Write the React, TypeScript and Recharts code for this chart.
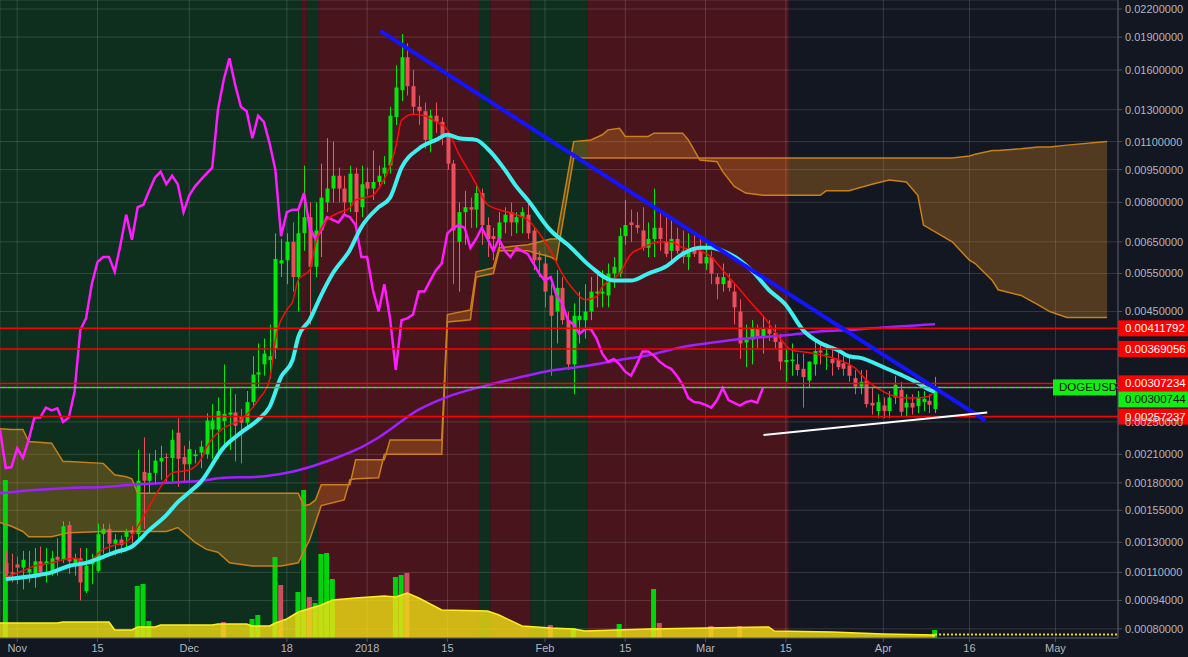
import React from "react";
import {
  ComposedChart,
  XAxis,
  YAxis,
  CartesianGrid,
  Bar,
  Line,
  Area,
  ReferenceArea,
  ReferenceLine,
} from "recharts";

// price axis is TradingView-style log: log10(price + shift)
const LOG_SHIFT = 0.00008;
const T = (v: number) => Math.log10(v + LOG_SHIFT);
const fromT = (t: number) => Math.pow(10, t) - LOG_SHIFT;

// day 0 = 1 Nov 2017
const X_MIN = -3;
const X_MAX = 191.9;
const Y_MIN = 0.000759;
const Y_MAX = 0.023057;

const TICK_DAYS = [0, 14, 30, 47, 61, 75, 92, 106, 120, 134, 151, 166, 181];
const TICK_LABELS = ["Nov", "15", "Dec", "18", "2018", "15", "Feb", "15", "Mar", "15", "Apr", "16", "May"];
const PRICE_TICKS = [
  0.022, 0.019, 0.016, 0.013, 0.011, 0.0095, 0.008, 0.0065, 0.0055, 0.0045, 0.0025, 0.0021, 0.0018,
  0.00155, 0.0013, 0.0011, 0.00094, 0.0008,
];

const CANDLE_START_DAY = -2;
// daily [open, high, low, close]
const OHLC: [number, number, number, number][] = [
  [0.00116, 0.00124, 0.00107, 0.00109], [0.0011, 0.00122, 0.00104, 0.00109], [0.00115, 0.0012, 0.00103, 0.00113],
  [0.00113, 0.00124, 0.001, 0.00118], [0.0011, 0.00124, 0.00104, 0.00112], [0.00107, 0.00126, 0.00101, 0.00117],
  [0.00117, 0.00127, 0.00108, 0.0011], [0.00115, 0.00126, 0.00104, 0.00117], [0.00111, 0.00124, 0.00108, 0.00119],
  [0.0012, 0.00133, 0.00108, 0.00118], [0.00118, 0.00146, 0.00116, 0.00142], [0.00143, 0.00146, 0.00109, 0.00117],
  [0.00116, 0.00122, 0.00108, 0.00119], [0.00119, 0.00126, 0.00094, 0.00104], [0.00099, 0.00126, 0.00098, 0.00114],
  [0.00115, 0.00122, 0.00103, 0.00117], [0.00111, 0.00144, 0.0011, 0.00136], [0.00136, 0.00144, 0.00122, 0.0014],
  [0.0014, 0.00144, 0.00121, 0.00129], [0.00129, 0.00136, 0.00121, 0.00132], [0.00132, 0.00135, 0.00122, 0.00128],
  [0.00134, 0.0014, 0.00126, 0.00138], [0.00139, 0.00142, 0.00128, 0.00136], [0.00136, 0.00215, 0.00132, 0.00182],
  [0.00191, 0.0023, 0.0014, 0.00182], [0.00182, 0.00211, 0.0017, 0.0019], [0.0019, 0.00215, 0.00178, 0.00203],
  [0.00202, 0.0022, 0.00183, 0.00206], [0.00207, 0.00211, 0.00181, 0.00206], [0.00206, 0.0024, 0.00181, 0.00227],
  [0.00236, 0.00255, 0.00176, 0.00205], [0.00207, 0.0022, 0.0018, 0.00199], [0.00199, 0.00226, 0.0018, 0.00216],
  [0.00208, 0.00215, 0.002, 0.0021], [0.00212, 0.00226, 0.00195, 0.00219], [0.0021, 0.00262, 0.00205, 0.00252],
  [0.0024, 0.00275, 0.00205, 0.00252], [0.0024, 0.00285, 0.00205, 0.00265], [0.00251, 0.0034, 0.00216, 0.00261],
  [0.0026, 0.003, 0.00215, 0.00263], [0.00263, 0.0029, 0.00202, 0.00245], [0.00258, 0.00268, 0.002, 0.00249],
  [0.00249, 0.00295, 0.0024, 0.00278], [0.00278, 0.00355, 0.0027, 0.00322], [0.00322, 0.0038, 0.003, 0.00326],
  [0.0034, 0.0039, 0.0032, 0.0036], [0.00348, 0.0042, 0.00315, 0.00355], [0.0037, 0.0068, 0.0035, 0.00594],
  [0.0058, 0.0066, 0.0054, 0.0059], [0.0059, 0.0068, 0.0052, 0.0065], [0.0065, 0.0072, 0.005, 0.0054],
  [0.0054, 0.0078, 0.0045, 0.0068], [0.0068, 0.0097, 0.0062, 0.0074], [0.0074, 0.008, 0.0042, 0.0057],
  [0.0057, 0.008, 0.0054, 0.0069], [0.0069, 0.0098, 0.006, 0.0082], [0.008, 0.0112, 0.0076, 0.0086],
  [0.0086, 0.011, 0.008, 0.0092], [0.0092, 0.0096, 0.008, 0.0086], [0.0086, 0.0092, 0.0075, 0.008],
  [0.008, 0.0097, 0.0076, 0.0093], [0.0093, 0.0096, 0.0069, 0.0076], [0.0078, 0.0097, 0.0074, 0.0088],
  [0.0089, 0.0096, 0.0083, 0.0086], [0.0086, 0.0105, 0.0081, 0.0089], [0.0089, 0.0097, 0.0086, 0.0092],
  [0.0093, 0.0102, 0.0088, 0.0096], [0.0097, 0.0132, 0.0093, 0.0126], [0.0125, 0.0164, 0.012, 0.0146],
  [0.0144, 0.0193, 0.0136, 0.0171], [0.0171, 0.0184, 0.014, 0.0147], [0.0147, 0.016, 0.0127, 0.0132],
  [0.0132, 0.014, 0.012, 0.0129], [0.0129, 0.0135, 0.0106, 0.0111], [0.0111, 0.013, 0.0104, 0.0126],
  [0.0126, 0.0135, 0.0115, 0.0122], [0.0122, 0.0125, 0.0108, 0.0113], [0.0113, 0.0116, 0.0095, 0.0098],
  [0.0098, 0.01, 0.0052, 0.0069], [0.0065, 0.008, 0.005, 0.0076], [0.0076, 0.0085, 0.0064, 0.0078],
  [0.0078, 0.0082, 0.007, 0.0077], [0.0077, 0.0088, 0.007, 0.0084], [0.0084, 0.0086, 0.0064, 0.0071],
  [0.0071, 0.0074, 0.006, 0.0066], [0.0067, 0.007, 0.0059, 0.0066], [0.0066, 0.0076, 0.0062, 0.0072],
  [0.0072, 0.0078, 0.0068, 0.0075], [0.0076, 0.008, 0.0067, 0.0072], [0.0072, 0.0076, 0.0068, 0.0074],
  [0.0074, 0.0078, 0.0068, 0.0076], [0.0075, 0.008, 0.0066, 0.0068], [0.0069, 0.007, 0.0056, 0.0059],
  [0.006, 0.0062, 0.0054, 0.0059], [0.0058, 0.0061, 0.0046, 0.005], [0.0049, 0.0052, 0.0032, 0.0044],
  [0.0045, 0.0056, 0.0038, 0.0051], [0.0051, 0.0054, 0.0042, 0.0043], [0.0043, 0.0045, 0.0033, 0.0034],
  [0.0034, 0.0047, 0.0029, 0.0044], [0.0043, 0.005, 0.0038, 0.0044], [0.0043, 0.0052, 0.0039, 0.0045],
  [0.0045, 0.0054, 0.0043, 0.005], [0.00495, 0.0056, 0.0046, 0.005], [0.00495, 0.0056, 0.0046, 0.005],
  [0.0049, 0.0058, 0.0046, 0.0055], [0.0055, 0.006, 0.0051, 0.0057], [0.0055, 0.007, 0.0054, 0.0067],
  [0.0067, 0.0081, 0.0064, 0.0071], [0.0072, 0.0077, 0.0065, 0.0071], [0.0071, 0.0076, 0.0068, 0.007],
  [0.0069, 0.0078, 0.0062, 0.0063], [0.0063, 0.0072, 0.006, 0.0066], [0.0066, 0.0086, 0.006, 0.007],
  [0.007, 0.0076, 0.0062, 0.0066], [0.0065, 0.0074, 0.006, 0.0061], [0.0062, 0.0073, 0.0058, 0.0066],
  [0.0066, 0.007, 0.0061, 0.0062], [0.0062, 0.0069, 0.0058, 0.006], [0.006, 0.0068, 0.0056, 0.0062],
  [0.0063, 0.0068, 0.006, 0.0061], [0.0062, 0.0067, 0.0058, 0.0058], [0.0058, 0.0066, 0.0056, 0.006],
  [0.006, 0.0062, 0.0052, 0.0055], [0.0054, 0.0055, 0.0048, 0.0052], [0.0052, 0.0058, 0.005, 0.0054],
  [0.0053, 0.0055, 0.005, 0.0051], [0.005, 0.0052, 0.0042, 0.0046], [0.0045, 0.0048, 0.0035, 0.0038],
  [0.00382, 0.0042, 0.00335, 0.00388], [0.00388, 0.0043, 0.0034, 0.00412], [0.0041, 0.0042, 0.0037, 0.00395],
  [0.00393, 0.0044, 0.0036, 0.0041], [0.0041, 0.0043, 0.00385, 0.004], [0.00402, 0.0042, 0.0037, 0.00383],
  [0.00383, 0.004, 0.0033, 0.00345], [0.00344, 0.0037, 0.0031, 0.00348], [0.00346, 0.0038, 0.0032, 0.00349],
  [0.0034, 0.0036, 0.0032, 0.0033], [0.00332, 0.0036, 0.0027, 0.00318], [0.00312, 0.00345, 0.003, 0.00345],
  [0.0034, 0.0039, 0.0032, 0.00365], [0.00366, 0.00385, 0.0034, 0.00362], [0.00358, 0.0038, 0.0033, 0.0036],
  [0.0035, 0.0037, 0.0032, 0.00342], [0.00348, 0.0037, 0.0033, 0.00335], [0.00342, 0.00365, 0.0032, 0.00332],
  [0.00338, 0.00355, 0.0031, 0.0032], [0.00316, 0.0033, 0.0029, 0.00302], [0.00302, 0.0033, 0.0029, 0.0031],
  [0.00312, 0.0033, 0.0027, 0.00275], [0.00277, 0.003, 0.0026, 0.00273], [0.00265, 0.0029, 0.00255, 0.00278],
  [0.00273, 0.00285, 0.00255, 0.00265], [0.00265, 0.00295, 0.00255, 0.00285], [0.00285, 0.0032, 0.00275, 0.00305],
  [0.00297, 0.0031, 0.00258, 0.00264], [0.0027, 0.0029, 0.00258, 0.00277], [0.00277, 0.0029, 0.0026, 0.0027],
  [0.00272, 0.00295, 0.00262, 0.00285], [0.00278, 0.00295, 0.00265, 0.00283], [0.0028, 0.0029, 0.00262, 0.00274],
  [0.00268, 0.00318, 0.00262, 0.00300744],
];

// [day, volume]
const VOLUME: [number, number][] = [
  [-2, 158], [21, 52], [22, 54], [23, 17], [36, 16], [41, 19], [42, 23], [45, 81], [46, 53], [49, 46], [50, 148],
  [51, 41], [52, 35], [53, 84], [54, 85], [55, 59], [66, 61], [67, 63], [68, 65], [93, 13], [97, 10], [105, 14],
  [111, 49], [112, 15], [121, 12], [126, 12], [160, 8],
];
const VOLUME_MA: [number, number][] = [
  [-3, 15], [7, 15], [8, 16], [16, 16], [17, 8], [20, 8], [21, 11], [24, 11], [25, 13], [34, 13], [35, 14], [40, 14],
  [41, 12], [44, 12], [45, 15], [47, 19], [49, 26], [53, 33], [55, 38], [59, 40], [64, 42], [66, 41], [68, 45],
  [70, 40], [74, 28], [82, 27], [84, 23], [88, 12], [93, 10], [97, 9], [99, 7], [110, 9], [131, 11], [132, 7],
  [142, 6], [151, 4], [160, 3],
];

const EMA_FAST: [number, number][] = [
  [-2, 0.00107], [1, 0.00111], [3, 0.00114], [6, 0.00116], [8, 0.00118], [10, 0.00119], [12, 0.00116], [15, 0.00125],
  [17, 0.00128], [19, 0.0013], [20, 0.00135], [23, 0.00158], [25, 0.00176], [27, 0.0019], [30, 0.00193],
  [32, 0.00204], [33, 0.00218], [36, 0.00242], [39, 0.00253], [42, 0.00281], [44, 0.00313], [45, 0.00387],
  [47, 0.00454], [48, 0.00474], [49, 0.00532], [51, 0.00561], [52, 0.00643], [54, 0.00729], [56, 0.00757],
  [58, 0.00777], [59, 0.0081], [62, 0.0083], [63, 0.0086], [66, 0.0107], [67, 0.0123], [69, 0.0127], [71, 0.0126],
  [73, 0.0122], [75, 0.0117], [77, 0.0103], [79, 0.0093], [80, 0.0088], [82, 0.0079], [84, 0.0077], [87, 0.0075],
  [89, 0.0073], [91, 0.0068], [93, 0.0062], [95, 0.0055], [97, 0.00505], [99, 0.00479], [101, 0.00487],
  [102, 0.00513], [105, 0.0055], [107, 0.0061], [109, 0.0063], [112, 0.0065], [114, 0.0065], [116, 0.0063],
  [119, 0.0062], [121, 0.006], [123, 0.0056], [126, 0.00505], [128, 0.0047], [130, 0.0044], [133, 0.0039],
  [135, 0.00367], [138, 0.00362], [141, 0.00355], [144, 0.00345], [146, 0.00334], [148, 0.00313], [151, 0.00294],
  [154, 0.00285], [156, 0.00284], [159, 0.00287], [160, 0.00297],
];

const EMA_SLOW: [number, number][] = [
  [-2, 0.00106], [3, 0.00108], [6, 0.0011], [9, 0.00114], [12, 0.00116], [15, 0.0012], [17, 0.00123], [20, 0.00127],
  [23, 0.00139], [26, 0.00151], [28, 0.00162], [30, 0.00171], [32, 0.00181], [36, 0.00218], [39, 0.00236],
  [42, 0.00253], [44, 0.00271], [46, 0.00318], [48, 0.00348], [49, 0.00393], [51, 0.00431], [53, 0.00491],
  [55, 0.0055], [58, 0.00623], [60, 0.00703], [63, 0.0078], [65, 0.0082], [67, 0.0096], [70, 0.0106], [73, 0.0111],
  [75, 0.0114], [77, 0.0112], [80, 0.0111], [82, 0.0106], [85, 0.0095], [87, 0.0087], [89, 0.0081], [93, 0.0069],
  [96, 0.0064], [100, 0.0057], [104, 0.0053], [107, 0.0053], [110, 0.0055], [113, 0.0057], [116, 0.0061],
  [119, 0.0063], [121, 0.0063], [123, 0.0062], [126, 0.0059], [128, 0.0056], [131, 0.00505], [134, 0.00466],
  [137, 0.00408], [140, 0.00381], [143, 0.00367], [145, 0.00355], [147, 0.00352], [151, 0.00335], [154, 0.00322],
  [157, 0.00308], [159, 0.00297], [160, 0.00294],
];

const OSCILLATOR: [number, number][] = [
  [-3, 0.0024], [-2, 0.00195], [-1, 0.00196], [0, 0.00217], [1, 0.00206], [2, 0.00227], [3, 0.00256], [4, 0.00256],
  [5, 0.0027], [6, 0.00266], [7, 0.00269], [8, 0.0025], [9, 0.00256], [10, 0.00294], [11, 0.00408], [12, 0.00434],
  [13, 0.0052], [14, 0.00585], [15, 0.006], [16, 0.006], [17, 0.00555], [18, 0.0064], [19, 0.0075], [20, 0.00657],
  [21, 0.0078], [22, 0.0079], [23, 0.0085], [24, 0.0091], [25, 0.0094], [26, 0.0088], [27, 0.0092], [28, 0.0088],
  [29, 0.0076], [30, 0.0083], [31, 0.0087], [32, 0.009], [33, 0.0093], [34, 0.0096], [35, 0.013], [36, 0.0152],
  [37, 0.017], [38, 0.0148], [39, 0.0132], [40, 0.0129], [41, 0.0112], [42, 0.0126], [43, 0.0122], [44, 0.0109],
  [45, 0.0095], [46, 0.0067], [47, 0.0076], [48, 0.0077], [49, 0.0077], [50, 0.0084], [51, 0.007], [52, 0.0066],
  [53, 0.0069], [54, 0.0074], [55, 0.0073], [56, 0.0072], [57, 0.0075], [58, 0.0074], [59, 0.0071], [60, 0.006],
  [61, 0.006], [62, 0.00505], [63, 0.0045], [64, 0.0052], [65, 0.00434], [66, 0.0033], [67, 0.0043], [68, 0.00434],
  [69, 0.00443], [70, 0.005], [71, 0.005], [72, 0.0053], [73, 0.0056], [74, 0.0058], [75, 0.0068], [76, 0.007],
  [77, 0.0071], [78, 0.007], [79, 0.0063], [80, 0.0066], [81, 0.007], [82, 0.0066], [83, 0.0062], [84, 0.0066],
  [85, 0.0062], [86, 0.006], [87, 0.0063], [88, 0.0062], [89, 0.0061], [90, 0.0058], [91, 0.0055], [92, 0.0053],
  [93, 0.0054], [94, 0.0049], [95, 0.0047], [96, 0.0043], [97, 0.0042], [98, 0.004], [99, 0.0041], [100, 0.0041],
  [101, 0.0039], [102, 0.0036], [103, 0.00345], [104, 0.0035], [105, 0.0034], [106, 0.00327], [107, 0.0032],
  [108, 0.0034], [109, 0.00364], [110, 0.00364], [111, 0.00356], [112, 0.00345], [113, 0.00337], [114, 0.00332],
  [115, 0.0032], [116, 0.00305], [117, 0.00284], [118, 0.00278], [119, 0.00277], [120, 0.00274], [121, 0.0027],
  [122, 0.00281], [123, 0.003], [124, 0.00281], [125, 0.00277], [126, 0.00273], [127, 0.00278], [128, 0.0028],
  [129, 0.00277], [130, 0.003],
];

const MA_LONG: [number, number][] = [
  [-3, 0.0017], [3, 0.00173], [9, 0.00175], [15, 0.00176], [20, 0.00178], [26, 0.0018], [32, 0.00182], [36, 0.00185],
  [42, 0.00186], [47, 0.0019], [52, 0.00198], [56, 0.00207], [59, 0.00215], [63, 0.0023], [70, 0.00267],
  [75, 0.00286], [81, 0.00302], [87, 0.00316], [92, 0.00327], [99, 0.00337], [105, 0.00348], [110, 0.00357],
  [116, 0.00373], [122, 0.00383], [128, 0.00391], [134, 0.00397], [139, 0.00404], [145, 0.00408], [149, 0.00412],
  [160, 0.00421],
];

// [day, span A, span B]
const CLOUD: [number, number, number][] = [
  [-3, 0.00241, 0.00145], [-1, 0.0024, 0.00142], [1, 0.0024, 0.00138], [2, 0.00225, 0.00134], [6, 0.00223, 0.00134],
  [8, 0.00202, 0.00136], [9, 0.00202, 0.00137], [15, 0.002, 0.00138], [17, 0.00188, 0.00138], [19, 0.00186, 0.00138],
  [20, 0.00184, 0.00138], [21, 0.0017, 0.00138], [26, 0.0017, 0.00138], [28, 0.0017, 0.00141], [31, 0.0017, 0.0013],
  [33, 0.0017, 0.00125], [35, 0.0017, 0.00123], [37, 0.0017, 0.00116], [41, 0.0017, 0.00114], [46, 0.0017, 0.00114],
  [49, 0.0017, 0.00116], [50, 0.00159, 0.00124], [51, 0.0016, 0.00132], [52, 0.00164, 0.00145], [53, 0.00178, 0.00159],
  [57, 0.00178, 0.00164], [58, 0.00178, 0.00183], [59, 0.00204, 0.00184], [63, 0.00204, 0.00185], [64, 0.00204, 0.0021],
  [65, 0.00227, 0.0021], [74, 0.00227, 0.0021], [75, 0.00443, 0.00426], [79, 0.00454, 0.00431], [80, 0.00555, 0.0054],
  [83, 0.00567, 0.0055], [84, 0.0063, 0.0062], [89, 0.0064, 0.0062], [93, 0.0066, 0.006], [94, 0.0066, 0.0059],
  [97, 0.011, 0.0101], [100, 0.0111, 0.0101], [102, 0.0114, 0.0101], [103, 0.0117, 0.0101], [105, 0.0118, 0.0101],
  [106, 0.0113, 0.0101], [110, 0.0113, 0.0101], [111, 0.0115, 0.0101], [116, 0.0115, 0.0101], [117, 0.0111, 0.0101],
  [119, 0.00999, 0.0101], [122, 0.0099, 0.0101], [123, 0.0094, 0.0101], [125, 0.0087, 0.0101], [127, 0.0084, 0.0101],
  [130, 0.0083, 0.0101], [140, 0.0083, 0.0101], [141, 0.0085, 0.0101], [145, 0.0085, 0.0101], [149, 0.0088, 0.0101],
  [152, 0.009, 0.0101], [155, 0.0089, 0.0101], [157, 0.0083, 0.0101], [158, 0.0071, 0.0101], [163, 0.0065, 0.0101],
  [166, 0.0059, 0.0102], [167, 0.0058, 0.0103], [170, 0.0053, 0.0105], [171, 0.00505, 0.0105], [175, 0.0049, 0.0106],
  [178, 0.00466, 0.0107], [180, 0.0045, 0.0107], [183, 0.00436, 0.0108], [190, 0.00436, 0.011],
];

// background regimes: [from day, to day, 1 = bullish / 0 = bearish]
const REGIMES: [number, number, number][] = [
  [-3, 49.5, 1], [49.5, 50.5, 0], [50.5, 52.5, 1], [52.5, 80.5, 0], [80.5, 82.5, 1], [82.5, 89.5, 0],
  [89.5, 99.5, 1], [99.5, 134.5, 0],
];

const LEVELS = [0.00411792, 0.00369056, 0.00307234, 0.00257237];
const LAST_PRICE = 0.00300744;
const SYMBOL = "DOGEUSD";

// trendlines [day, price]
const DOWN_TREND: [number, number][] = [[63.3, 0.01962], [168.8, 0.00252]];
const UP_TREND: [number, number][] = [[130.1, 0.00233], [169.1, 0.00263]];

const BG = "#131722";
const UP = "#00e80c";
const DOWN = "#ec4e5c";
const AXIS_TEXT = "#b2b5be";
const FONT = "'Liberation Sans', Arial, sans-serif";

type Row = { d: number; [k: string]: any };
const rowMap = new Map<number, Row>();
const put = (d: number, key: string, val: any) => {
  let r = rowMap.get(d);
  if (!r) {
    r = { d };
    rowMap.set(d, r);
  }
  r[key] = val;
};
OHLC.forEach((k, i) => {
  const d = CANDLE_START_DAY + i;
  put(d, "kr", [T(k[2]), T(k[1])]);
  put(d, "ohlc", k);
});
VOLUME.forEach(([d, v]) => {
  const i = d - CANDLE_START_DAY;
  put(d, "vol", v);
  put(d, "volUp", i === 0 || OHLC[i][3] >= OHLC[i - 1][3]);
});
VOLUME_MA.forEach(([d, v]) => put(d, "volMa", v));
EMA_FAST.forEach(([d, v]) => put(d, "emaFast", T(v)));
EMA_SLOW.forEach(([d, v]) => put(d, "emaSlow", T(v)));
OSCILLATOR.forEach(([d, v]) => put(d, "osc", T(v)));
MA_LONG.forEach(([d, v]) => put(d, "maLong", T(v)));
CLOUD.forEach(([d, a, b]) => {
  put(d, "spanA", T(a));
  put(d, "spanB", T(b));
  put(d, "cloud", [T(a), T(b)]);
});
const rows = [...rowMap.values()].sort((a, b) => a.d - b.d);

function Candle(props: any) {
  const { x, y, width, height, payload } = props;
  if (!payload || !payload.ohlc) return null;
  const [o, h, l, c] = payload.ohlc;
  const top = Math.min(y, y + height);
  const span = Math.abs(height);
  const th = T(h);
  const tl = T(l);
  const py = (v: number) => top + (span * (th - T(v))) / (th - tl || 1);
  const color = c >= o ? UP : DOWN;
  const cx = Math.round(x + width / 2) + 0.5;
  const b1 = py(Math.max(o, c));
  const b2 = py(Math.min(o, c));
  return (
    <g>
      <line x1={cx} x2={cx} y1={top} y2={top + span} stroke={color} strokeWidth={1} />
      <rect x={cx - width / 2} y={b1} width={width} height={Math.max(1, b2 - b1)} fill={color} />
    </g>
  );
}

function VolBar(props: any) {
  const { x, y, width, height, payload } = props;
  if (!payload || !payload.vol) return null;
  return <rect x={x} y={y} width={width} height={height} fill={payload.volUp ? "#00d40a" : "#c9505c"} />;
}

function PriceTag(props: any) {
  const { viewBox, text, bg, fg, dy = 0, symbol } = props;
  if (!viewBox) return null;
  const x = viewBox.x + viewBox.width;
  const y = viewBox.y + dy;
  return (
    <g>
      {symbol && (
        <g>
          <rect x={x - 65} y={viewBox.y - 8} width={63} height={16} fill={bg} />
          <text x={x - 59} y={viewBox.y + 4} fill={fg} fontSize={11.5} fontFamily={FONT}>
            {symbol}
          </text>
        </g>
      )}
      <rect x={x} y={y - 8} width={70} height={16} fill={bg} />
      <text x={x + 7} y={y + 4} fill={fg} fontSize={11.5} fontFamily={FONT}>
        {text}
      </text>
    </g>
  );
}

export default function App() {
  return (
    <div style={{ position: "absolute", left: 0, top: 0, width: 1188, height: 657, background: BG }}>
      <ComposedChart
        width={1188}
        height={657}
        data={rows}
        margin={{ top: 0, right: 0, bottom: 0, left: 0 }}
        style={{ fontFamily: FONT }}
      >
        {REGIMES.map(([a, b, bull], i) => (
          <ReferenceArea
            key={`reg-${i}`}
            xAxisId="x"
            yAxisId="p"
            x1={a}
            x2={b}
            fill={bull ? "#0e2f1d" : "#4a141d"}
            fillOpacity={1}
            stroke="none"
            ifOverflow="hidden"
            zIndex={-200}
          />
        ))}
        <CartesianGrid xAxisId="x" yAxisId="p" stroke="rgba(255,255,255,0.14)" />
        <XAxis
          xAxisId="x"
          dataKey="d"
          type="number"
          domain={[X_MIN, X_MAX]}
          allowDataOverflow
          ticks={TICK_DAYS}
          interval={0}
          tickFormatter={(v: number) => TICK_LABELS[TICK_DAYS.indexOf(v)] ?? ""}
          height={19}
          tickSize={4}
          tick={{ fill: AXIS_TEXT, fontSize: 11 }}
          axisLine={{ stroke: "#4c525e" }}
          tickLine={{ stroke: "#4c525e" }}
        />
        <XAxis xAxisId="xv" dataKey="d" type="number" domain={[X_MIN, X_MAX]} allowDataOverflow hide />
        <YAxis
          yAxisId="p"
          orientation="right"
          type="number"
          width={70}
          domain={[T(Y_MIN), T(Y_MAX)]}
          allowDataOverflow
          ticks={PRICE_TICKS.map(T)}
          interval={0}
          tickFormatter={(t: number) => fromT(t).toFixed(8)}
          tickSize={4}
          tickMargin={3}
          tick={{ fill: AXIS_TEXT, fontSize: 11 }}
          axisLine={{ stroke: "#4c525e" }}
          tickLine={{ stroke: "#4c525e" }}
        />
        <YAxis yAxisId="vol" type="number" domain={[0, 638]} allowDataOverflow hide />

        <Area
          xAxisId="x"
          yAxisId="p"
          dataKey="cloud"
          type="linear"
          connectNulls
          fill="#e08a1e"
          fillOpacity={0.3}
          stroke="none"
          dot={false}
          activeDot={false}
          isAnimationActive={false}
        />
        <Line xAxisId="x" yAxisId="p" dataKey="spanA" type="linear" connectNulls dot={false} activeDot={false} stroke="#c8801a" strokeWidth={1.5} isAnimationActive={false} />
        <Line xAxisId="x" yAxisId="p" dataKey="spanB" type="linear" connectNulls dot={false} activeDot={false} stroke="#c8801a" strokeWidth={1.5} isAnimationActive={false} />

        <Bar xAxisId="xv" yAxisId="vol" dataKey="vol" barSize={5} shape={<VolBar />} isAnimationActive={false} />
        <Area
          xAxisId="x"
          yAxisId="vol"
          dataKey="volMa"
          type="linear"
          connectNulls
          fill="#f2e014"
          fillOpacity={0.8}
          stroke="#ffee22"
          strokeWidth={1.5}
          dot={false}
          activeDot={false}
          isAnimationActive={false}
          zIndex={350}
        />

        <Bar xAxisId="x" yAxisId="p" dataKey="kr" barSize={4} shape={<Candle />} isAnimationActive={false} />

        <Line xAxisId="x" yAxisId="p" dataKey="maLong" type="monotone" connectNulls dot={false} activeDot={false} stroke="#a020ff" strokeWidth={2.5} isAnimationActive={false} />
        <Line xAxisId="x" yAxisId="p" dataKey="osc" type="linear" connectNulls dot={false} activeDot={false} stroke="#ff1cff" strokeWidth={2.5} isAnimationActive={false} />
        <Line xAxisId="x" yAxisId="p" dataKey="emaFast" type="monotone" connectNulls dot={false} activeDot={false} stroke="#ff0a0a" strokeWidth={1.5} isAnimationActive={false} />
        <Line xAxisId="x" yAxisId="p" dataKey="emaSlow" type="monotone" connectNulls dot={false} activeDot={false} stroke="#3ef0f0" strokeWidth={4} isAnimationActive={false} />

        {LEVELS.map((v, i) => (
          <ReferenceLine
            key={`lvl-${i}`}
            xAxisId="x"
            yAxisId="p"
            y={T(v)}
            stroke="#ff0000"
            strokeWidth={1.5}
            zIndex={450}
            label={(p: any) => <PriceTag {...p} text={v.toFixed(8)} bg="#ff0000" fg="#ffffff" dy={0} />}
          />
        ))}
        <ReferenceLine xAxisId="x" yAxisId="p" y={T(LAST_PRICE)} stroke="#ff40ff" strokeWidth={1.5} strokeDasharray="3 3" zIndex={450} />
        <ReferenceLine
          xAxisId="x"
          yAxisId="p"
          y={T(LAST_PRICE)}
          stroke="#22ee22"
          strokeWidth={1.5}
          strokeDasharray="3 3"
          strokeDashoffset={3}
          zIndex={450}
          label={(p: any) => (
            <PriceTag {...p} text={LAST_PRICE.toFixed(8)} bg="#12ee12" fg="#101010" dy={12} symbol={SYMBOL} />
          )}
        />
        <ReferenceLine
          xAxisId="xv"
          yAxisId="vol"
          segment={[{ x: 160, y: 3.5 }, { x: X_MAX, y: 3.5 }]}
          stroke="#e8dc10"
          strokeWidth={2}
          strokeDasharray="2 2"
          zIndex={450}
        />
        <ReferenceLine
          xAxisId="x"
          yAxisId="p"
          segment={DOWN_TREND.map(([d, v]) => ({ x: d, y: T(v) }))}
          stroke="#1414ff"
          strokeWidth={4}
          zIndex={460}
        />
        <ReferenceLine
          xAxisId="x"
          yAxisId="p"
          segment={UP_TREND.map(([d, v]) => ({ x: d, y: T(v) }))}
          stroke="#ffffff"
          strokeWidth={2}
          zIndex={460}
        />
      </ComposedChart>
    </div>
  );
}
